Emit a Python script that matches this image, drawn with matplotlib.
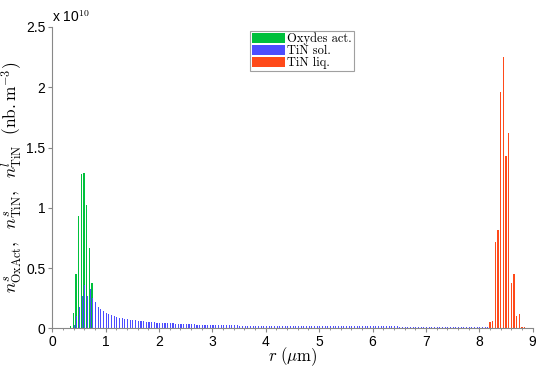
import numpy as np
import matplotlib
matplotlib.use('Agg')
import matplotlib.pyplot as plt
from matplotlib.ticker import MultipleLocator, FixedLocator

plt.rcParams['mathtext.fontset'] = 'cm'
plt.rcParams['font.family'] = 'Liberation Sans'

# particle radius classes (um), values in units of 1e10 nb.m^-3
r_green = [0.35, 0.40, 0.45, 0.50, 0.55, 0.60, 0.65, 0.70, 0.75]
n_green = [0.02, 0.13, 0.45, 0.93, 1.28, 1.29, 1.02, 0.67, 0.38]

r_blue_start = 0.40
r_blue_step = 0.05
n_blue = [
    0.03, 0.10, 0.18, 0.27, 0.36, 0.27, 0.33, 0.25, 0.22, 0.18,
    0.16, 0.145, 0.13, 0.12, 0.11, 0.10, 0.095, 0.09, 0.085, 0.08,
    0.076, 0.073, 0.070, 0.067, 0.064, 0.061, 0.059, 0.057, 0.055, 0.053,
    0.051, 0.049, 0.047, 0.046, 0.044, 0.043, 0.042, 0.041, 0.040, 0.039,
    0.038, 0.037, 0.036, 0.035, 0.034, 0.033, 0.032, 0.031, 0.030, 0.030,
    0.029, 0.029, 0.028, 0.028, 0.027, 0.027, 0.026, 0.026, 0.026, 0.025,
    0.025, 0.025, 0.024, 0.024, 0.024, 0.023, 0.023, 0.023, 0.023, 0.022,
    0.022, 0.022, 0.022, 0.022, 0.021, 0.021, 0.021, 0.021, 0.021, 0.020,
    0.020, 0.020, 0.020, 0.020, 0.020, 0.020, 0.020, 0.020, 0.020, 0.020,
    0.020, 0.019, 0.019, 0.019, 0.019, 0.019, 0.019, 0.019, 0.019, 0.018,
    0.018, 0.018, 0.018, 0.018, 0.018, 0.018, 0.017, 0.017, 0.017, 0.017,
    0.017, 0.017, 0.017, 0.017, 0.016, 0.016, 0.016, 0.016, 0.016, 0.016,
    0.016, 0.016, 0.015, 0.015, 0.015, 0.015, 0.015, 0.015, 0.015, 0.015,
    0.015, 0.015, 0.014, 0.014, 0.014, 0.014, 0.014, 0.014, 0.014, 0.014,
    0.014, 0.014, 0.013, 0.013, 0.013, 0.013, 0.013, 0.013, 0.013, 0.013,
    0.013, 0.013, 0.013, 0.013, 0.013, 0.013,
]
r_blue = [r_blue_start + i * r_blue_step for i in range(len(n_blue))]

r_red = [8.20, 8.25, 8.30, 8.35, 8.40, 8.45, 8.50, 8.55, 8.60, 8.65, 8.70, 8.75, 8.80, 8.85]
n_red = [0.055, 0.06, 0.72, 0.815, 1.96, 2.25, 1.43, 1.62, 0.38, 0.45, 0.105, 0.12, 0.01, 0.015]

labels = ['Oxydes act.', 'TiN sol.', 'TiN liq.']
colors = ['#00c03c', '#4d4dff', '#ff4a1a']

fig = plt.figure(figsize=(5.5, 3.69), dpi=100)
ax = fig.add_axes([0.095, 0.110, 0.8735, 0.817])

w = 0.02
ax.bar(np.array(r_green) - 0.005, n_green, width=w, color=colors[0], linewidth=0, label=labels[0])
ax.bar(np.array(r_blue) + 0.012, n_blue, width=w, color=colors[1], linewidth=0, label=labels[1])
ax.bar(np.array(r_red), n_red, width=w, color=colors[2], linewidth=0, label=labels[2])

ax.set_xlim(0, 9)
ax.set_ylim(0, 2.5)
ax.xaxis.set_major_locator(MultipleLocator(1))
ax.xaxis.set_minor_locator(MultipleLocator(0.2))
ax.yaxis.set_major_locator(FixedLocator([0, 0.5, 1, 1.5, 2, 2.5]))
ax.set_yticklabels(['0', '0.5', '1', '1.5', '2', '2.5'])

for s in ['top', 'right']:
    ax.spines[s].set_visible(False)
for s in ['left', 'bottom']:
    ax.spines[s].set_color('#888888')
ax.tick_params(which='major', length=3, color='#888888', labelsize=10, pad=2)
ax.tick_params(which='minor', length=1.5, color='#888888')

ax.set_xlabel(r'$r\ (\mu\mathrm{m})$', fontsize=12)
ax.xaxis.set_label_coords(0.5, -0.055)
ax.set_ylabel(r'$n^s_{\mathrm{OxAct}},\ \ n^s_{\mathrm{TiN}},\ \ n^l_{\mathrm{TiN}}\ \ (\mathrm{nb.m}^{-3})$',
              fontsize=12.5)
ax.yaxis.set_label_coords(-0.058, 0.5)
ax.text(0.0, 1.005, r'x 10$^{10}$', transform=ax.transAxes, fontsize=10, ha='left', va='bottom')

leg = ax.legend(loc='upper center', bbox_to_anchor=(0.52, 1.0),
                prop={'family': 'cmr10', 'size': 9},
                frameon=True, fancybox=False, borderpad=0.15, labelspacing=0.0,
                handlelength=2.6, handleheight=0.8, handletextpad=0.2, borderaxespad=0.3)
leg.get_frame().set_edgecolor('#888888')
leg.get_frame().set_linewidth(0.8)

plt.savefig('out.png', dpi=100)
